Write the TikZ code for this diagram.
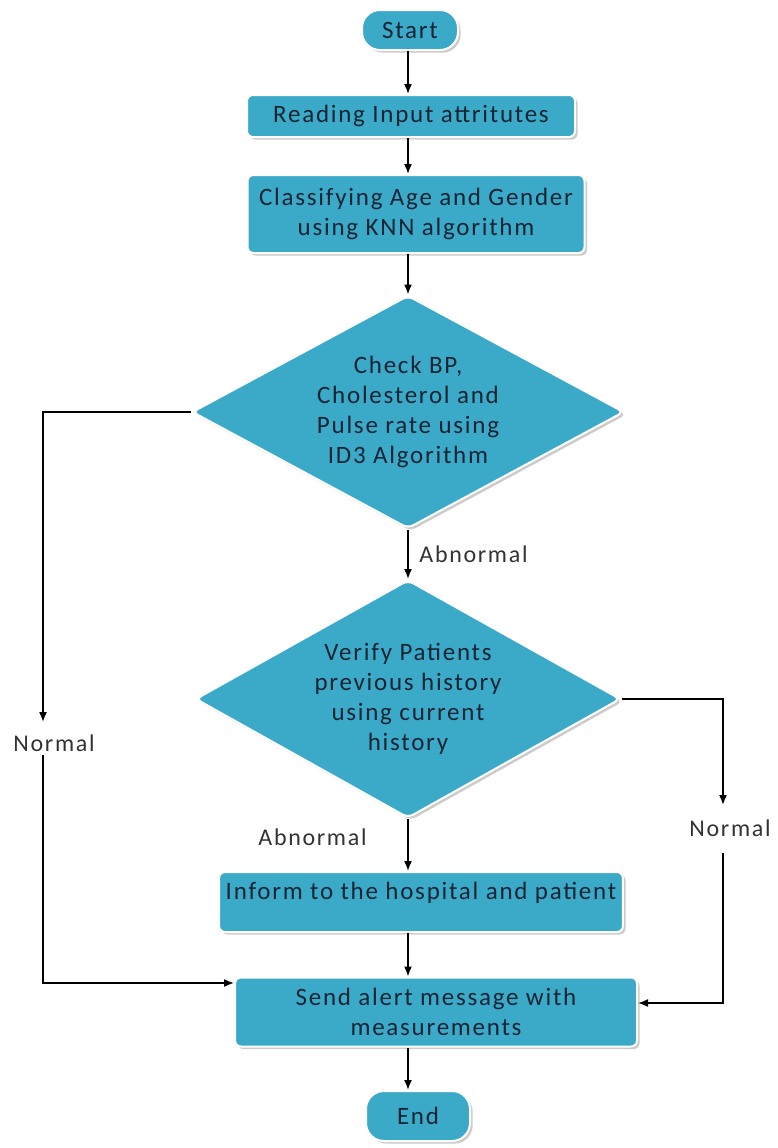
\documentclass[tikz,border=0pt]{standalone}
\usepackage{fontspec}
\setmainfont{Carlito}[LetterSpace=7]
\usetikzlibrary{shapes.geometric,shadows,arrows.meta}
\definecolor{boxteal}{RGB}{58,170,200}
\definecolor{inktxt}{RGB}{22,36,52}
\tikzset{
    proc/.style={rectangle, rounded corners=3pt, fill=boxteal, draw=white, line width=1pt,
        text=inktxt, align=center, font=\fontsize{12.5}{15}\selectfont,
        drop shadow={shadow xshift=1.3pt, shadow yshift=-1.3pt, fill=black!40}},
    term/.style={proc, rounded corners=9pt},
    dec/.style={proc, diamond, aspect=1.85, inner sep=0pt},
    arr/.style={-{Latex[length=5pt,width=4pt]}, line width=0.8pt},
    lbl/.style={text=black!80, font=\fontsize{12}{14}\selectfont}
}
\begin{document}
\begin{tikzpicture}[x=0.5pt,y=-0.5pt]
    \fill[white] (0,0) rectangle (772,1148);
    \coordinate (ax) at (408,0);
    % main column
    \node[term, minimum width=48pt, minimum height=20pt] (start) at (410,30) {Start};
    \node[proc, minimum width=164pt, minimum height=21pt] (read) at (411,116) {Reading Input attritutes};
    \node[proc, minimum width=168.5pt, minimum height=39pt] (knn) at (416,214) {Classifying Age and Gender\\using KNN algorithm};
    \node[dec, minimum width=216pt, minimum height=116.5pt] (chk) at (408,412) {Check BP,\\Cholesterol and\\Pulse rate using\\ID3 Algorithm};
    \node[dec, minimum width=212.5pt, minimum height=119pt] (vrf) at (408,699) {Verify Patients\\previous history\\using current\\history};
    \node[proc, minimum width=201.5pt, minimum height=30pt, text height=9pt, text depth=12pt] (inf) at (421,902) {Inform to the hospital and patient};
    \node[proc, minimum width=201pt, minimum height=34.5pt] (send) at (436,1012) {Send alert message with\\measurements};
    \node[term, minimum width=52pt, minimum height=25pt] (end) at (418,1116) {End};
    % side labels
    \node[lbl] (nl) at (54,743) {Normal};
    \node[lbl] (nr) at (730,828) {Normal};
    \coordinate (lup) at (43,722);
    \coordinate (ldn) at (43,755);
    \coordinate (rup) at (723,805);
    \coordinate (rdn) at (723,853);
    % arrows
    \draw[arr] (start.south -| ax) -- (read.north -| ax);
    \draw[arr] (read.south -| ax) -- (knn.north -| ax);
    \draw[arr] (knn.south -| ax) -- (chk.north);
    \draw[arr] (chk.south) -- (vrf.north) node[lbl, midway, right=2pt] {Abnormal};
    \draw[arr] (vrf.south) -- (inf.north -| ax) node[lbl, pos=0.35, left=17pt] {Abnormal};
    \draw[arr] (inf.south -| ax) -- (send.north -| ax);
    \draw[arr] (send.south -| ax) -- (end.north -| ax);
    \draw[arr] (chk.west) -| (lup);
    \draw[arr] (ldn) |- ([yshift=14.5pt]send.west);
    \draw[arr] (vrf.east) -| (rup);
    \draw[arr] (rdn) |- ([yshift=4.5pt]send.east);
\end{tikzpicture}
\end{document}
